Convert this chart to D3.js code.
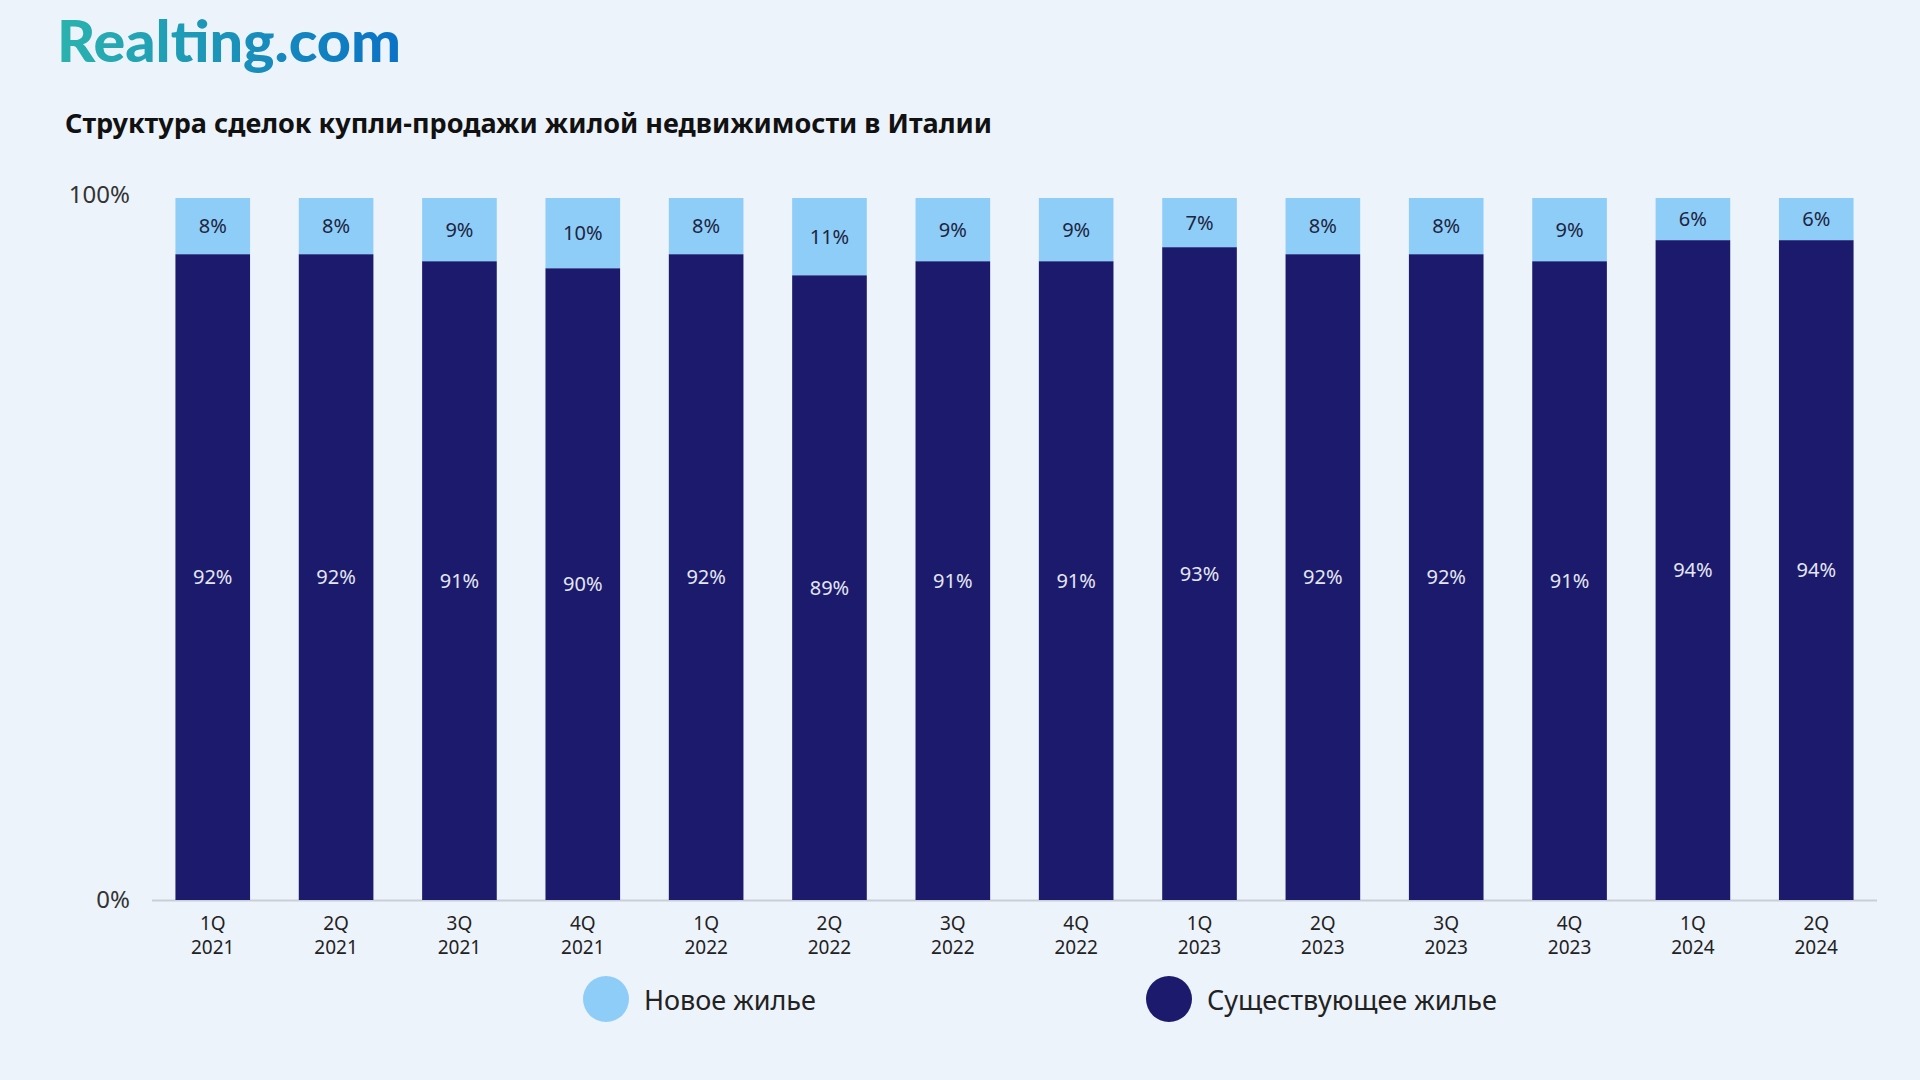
<!DOCTYPE html>
<html><head><meta charset="utf-8">
<script src="https://cdn.jsdelivr.net/npm/d3@7"></script>
<style>
html,body{margin:0;padding:0;background:#edf3fb;}
svg{display:block;}
</style></head>
<body>
<svg id="chart" width="1920" height="1080"></svg>
<script>
const quarters = ["1Q","2Q","3Q","4Q","1Q","2Q","3Q","4Q","1Q","2Q","3Q","4Q","1Q","2Q"];
const years = ["2021","2021","2021","2021","2022","2022","2022","2022","2023","2023","2023","2023","2024","2024"];
const newHousing = [8,8,9,10,8,11,9,9,7,8,8,9,6,6];
const existingHousing = [92,92,91,90,92,89,91,91,93,92,92,91,94,94];
const yTicks = [0,100];
const seriesNames = ["Новое жилье","Существующее жилье"];
const colors = ["#8ecdf8","#1b1a6d"];

const svg = d3.select("#chart");
svg.append("rect").attr("width",1920).attr("height",1080).attr("fill","#edf3fb");

// Logo
const defs = svg.append("defs");
const grad = defs.append("linearGradient").attr("id","logoGrad").attr("x1","0%").attr("x2","100%");
grad.append("stop").attr("offset","0%").attr("stop-color","#2bb3ae");
grad.append("stop").attr("offset","100%").attr("stop-color","#0a72c6");
svg.append("text").attr("x",57).attr("y",62)
  .attr("font-family","Lato, 'Open Sans', sans-serif").attr("font-weight",900).attr("font-size",57)
  .attr("fill","url(#logoGrad)").attr("textLength",344).attr("lengthAdjust","spacingAndGlyphs")
  .text("Realting.com");

// Title
svg.append("text").attr("x",65).attr("y",133)
  .attr("font-family","'Noto Sans', sans-serif").attr("font-weight",700).attr("font-size",27)
  .attr("fill","#111").attr("textLength",927).attr("lengthAdjust","spacingAndGlyphs")
  .text("Структура сделок купли-продажи жилой недвижимости в Италии");

const idx = d3.range(quarters.length);
const x = d3.scaleBand().domain(idx).range([152,1877]).paddingInner(0.395).paddingOuter(0.19);
const y = d3.scaleLinear().domain([0,100]).range([900,198]);

// baseline axis
svg.append("line").attr("x1",152).attr("x2",1877).attr("y1",y(0)+0.5).attr("y2",y(0)+0.5)
  .attr("stroke","#c9ced8").attr("stroke-width",2);

// y tick labels
svg.selectAll(".ytick").data(yTicks).enter().append("text")
  .attr("x",130).attr("y",d=>y(d)+ (d===100?-3:0)).attr("dy","0.35em").attr("text-anchor","end")
  .attr("font-family","'Noto Sans', sans-serif").attr("font-size",24).attr("fill","#333")
  .text(d=>d+"%");

const g = svg.append("g");
// existing (bottom)
g.selectAll(".ex").data(idx).enter().append("rect")
  .attr("x",i=>x(i)).attr("width",x.bandwidth())
  .attr("y",i=>y(existingHousing[i])).attr("height",i=>y(0)-y(existingHousing[i]))
  .attr("fill",colors[1]);
// new (top)
g.selectAll(".nw").data(idx).enter().append("rect")
  .attr("x",i=>x(i)).attr("width",x.bandwidth())
  .attr("y",i=>y(existingHousing[i]+newHousing[i])).attr("height",i=>y(existingHousing[i])-y(existingHousing[i]+newHousing[i]))
  .attr("fill",colors[0]);

// labels
g.selectAll(".exl").data(idx).enter().append("text")
  .attr("x",i=>x(i)+x.bandwidth()/2).attr("y",i=>y(existingHousing[i]/2)).attr("dy","0.35em")
  .attr("text-anchor","middle").attr("font-family","'Noto Sans', sans-serif").attr("font-size",20)
  .attr("fill","#e4e6f2").text(i=>existingHousing[i]+"%");
g.selectAll(".nwl").data(idx).enter().append("text")
  .attr("x",i=>x(i)+x.bandwidth()/2).attr("y",i=>y(existingHousing[i]+newHousing[i]/2)).attr("dy","0.35em")
  .attr("text-anchor","middle").attr("font-family","'Noto Sans', sans-serif").attr("font-size",20)
  .attr("fill","#1d2540").text(i=>newHousing[i]+"%");

// x labels
const xl = svg.selectAll(".xl").data(idx).enter().append("text")
  .attr("text-anchor","middle").attr("font-family","'Noto Sans', sans-serif").attr("font-size",19).attr("fill","#222");
xl.append("tspan").attr("x",i=>x(i)+x.bandwidth()/2).attr("y",930).text(i=>quarters[i]);
xl.append("tspan").attr("x",i=>x(i)+x.bandwidth()/2).attr("y",954).text(i=>years[i]);

// legend
const legX = [606,1169];
const lg = svg.selectAll(".lg").data(seriesNames).enter().append("g");
lg.append("circle").attr("cx",(d,i)=>legX[i]).attr("cy",999).attr("r",23).attr("fill",(d,i)=>colors[i]);
lg.append("text").attr("x",(d,i)=>legX[i]+38).attr("y",1001).attr("dy","0.35em")
  .attr("font-family","'Noto Sans', sans-serif").attr("font-size",27).attr("fill","#222").text(d=>d);
</script>
</body></html>
